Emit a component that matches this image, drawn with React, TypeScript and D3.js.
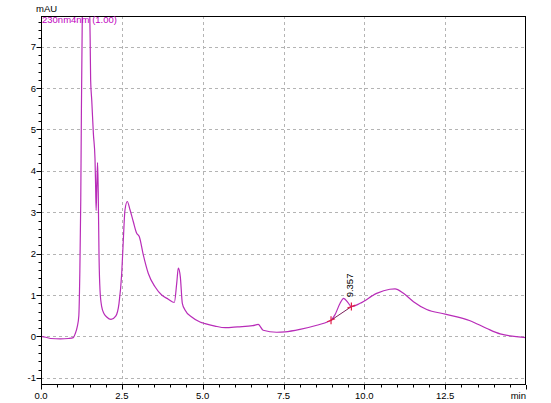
import React from "react";
import * as d3 from "d3";

const times = [0.0, 0.15, 0.3, 0.6, 0.85, 1.0, 1.05, 1.12, 1.17, 1.2, 1.23, 1.25, 1.277, 1.31, 1.38, 1.45, 1.5, 1.52, 1.535, 1.57, 1.62, 1.67, 1.69, 1.705, 1.725, 1.75, 1.77, 1.795, 1.825, 1.877, 1.95, 2.032, 2.165, 2.311, 2.413, 2.496, 2.546, 2.598, 2.669, 2.753, 2.855, 2.96, 3.041, 3.164, 3.319, 3.526, 3.733, 3.937, 4.123, 4.197, 4.247, 4.309, 4.371, 4.454, 4.661, 4.918, 5.073, 5.38, 5.7, 6.08, 6.55, 6.72, 6.87, 7.29, 7.55, 8.01, 8.53, 8.89, 8.97, 9.09, 9.25, 9.36, 9.5, 9.6, 9.87, 10.38, 10.79, 10.95, 11.21, 11.52, 11.93, 12.5, 13.27, 13.79, 14.2, 15.0];
const signal = [0.0, -0.02, -0.05, -0.06, -0.05, -0.03, 0.05, 0.23, 0.5, 1.5, 3.3, 5.5, 7.74, 9.0, 9.5, 9.0, 8.2, 7.2, 6.2, 5.7, 4.9, 4.3, 3.6, 3.04, 3.6, 4.2, 3.5, 1.93, 1.12, 0.72, 0.55, 0.47, 0.41, 0.49, 0.8, 1.52, 2.33, 3.06, 3.26, 3.06, 2.77, 2.49, 2.41, 1.97, 1.52, 1.2, 1.0, 0.9, 0.82, 1.28, 1.65, 1.44, 0.8, 0.64, 0.47, 0.35, 0.31, 0.25, 0.21, 0.23, 0.26, 0.29, 0.15, 0.1, 0.11, 0.17, 0.27, 0.36, 0.39, 0.52, 0.8, 0.92, 0.81, 0.72, 0.8, 1.04, 1.14, 1.15, 1.04, 0.84, 0.65, 0.54, 0.38, 0.19, 0.06, -0.03];

const yTickValues = [-1, 0, 1, 2, 3, 4, 5, 6, 7];
const xTickValues = [0, 2.5, 5, 7.5, 10, 12.5, 15];
const xTickLabels = ["0.0", "2.5", "5.0", "7.5", "10.0", "12.5", ""];

const peakLabel = "9.357";
const peakTime = 9.357;
const peakValue = 0.92;
const baselineStart = [8.97, 0.39];
const baselineEnd = [9.6, 0.72];

const channelLabel = "230nm4nm (1.00)";
const yUnit = "mAU";
const xUnit = "min";

export default function App() {
  const W = 551, H = 403;
  const left = 41, right = 526, top = 16, bottom = 385;
  const x = d3.scaleLinear().domain([0, 15]).range([left, right]);
  const y = d3.scaleLinear().domain([-1.174, 7.742]).range([bottom, top]);

  const data = times.map((t, i) => [t, signal[i]] as [number, number]);
  const line = d3.line<[number, number]>().x(d => x(d[0])).y(d => y(d[1])).curve(d3.curveMonotoneX);

  const yMinor = d3.range(-1.0, 7.7, 0.2).map(v => Math.round(v * 10) / 10);
  const xMinor = d3.range(0, 15.01, 0.5);

  const font = "'Liberation Sans', Arial, sans-serif";
  const fs = 9.5;

  const marker = (t: number, v: number, key: string) => {
    const cx = x(t), cy = y(v);
    return (
      <g key={key} stroke="#e0204a" strokeWidth={1.2}>
        <line x1={cx} y1={cy - 4} x2={cx} y2={cy + 4} />
        <line x1={cx - 4} y1={cy + 1.5} x2={cx + 4} y2={cy - 1.5} />
      </g>
    );
  };

  return (
    <svg width={W} height={H} style={{ position: "absolute", left: 0, top: 0, background: "#fff" }}>
      <defs>
        <clipPath id="plot">
          <rect x={left} y={top} width={right - left} height={bottom - top} />
        </clipPath>
      </defs>
      <rect x={0} y={0} width={W} height={H} fill="#fff" />
      <g stroke="#b4b4b4" strokeWidth={1} strokeDasharray="3,3">
        {yTickValues.map(v => (
          <line key={"gy" + v} x1={left} x2={right} y1={Math.round(y(v)) + 0.5} y2={Math.round(y(v)) + 0.5} />
        ))}
        {xTickValues.slice(1, -1).map(v => (
          <line key={"gx" + v} y1={top} y2={bottom} x1={Math.round(x(v)) + 0.5} x2={Math.round(x(v)) + 0.5} />
        ))}
      </g>
      <g clipPath="url(#plot)">
        <path d={line(data) || ""} fill="none" stroke="#b82cb8" strokeWidth={1.2} strokeLinejoin="round" />
        <line x1={x(baselineStart[0])} y1={y(baselineStart[1])} x2={x(baselineEnd[0])} y2={y(baselineEnd[1])} stroke="#7a1f5a" strokeWidth={1} />
        {marker(baselineStart[0], baselineStart[1], "m1")}
        {marker(baselineEnd[0], baselineEnd[1], "m2")}
      </g>
      <text transform={`translate(${x(peakTime) + 9},${y(peakValue) - 1}) rotate(-90)`} fontFamily={font} fontSize={fs} fill="#000">{peakLabel}</text>
      <rect x={left + 0.5} y={top + 0.5} width={right - left - 1} height={bottom - top - 1} fill="none" stroke="#000" strokeWidth={1} />
      <g stroke="#000" strokeWidth={1}>
        {yMinor.map(v => (
          <line key={"ym" + v} x1={left - 2.5} x2={left} y1={Math.round(y(v)) + 0.5} y2={Math.round(y(v)) + 0.5} />
        ))}
        {yTickValues.map(v => (
          <line key={"yM" + v} x1={left - 4.5} x2={left} y1={Math.round(y(v)) + 0.5} y2={Math.round(y(v)) + 0.5} />
        ))}
        {xMinor.map(v => (
          <line key={"xm" + v} y1={bottom} y2={bottom + 2.5} x1={Math.round(x(v)) + 0.5} x2={Math.round(x(v)) + 0.5} />
        ))}
        {xTickValues.map(v => (
          <line key={"xM" + v} y1={bottom} y2={bottom + 4.5} x1={Math.round(x(v)) + 0.5} x2={Math.round(x(v)) + 0.5} />
        ))}
      </g>
      <g fontFamily={font} fontSize={fs} fill="#000">
        {yTickValues.map(v => (
          <text key={"yl" + v} x={left - 5} y={y(v) + 3.5} textAnchor="end">{String(v)}</text>
        ))}
        {xTickValues.map((v, i) => (
          <text key={"xl" + v} x={x(v)} y={398.5} textAnchor="middle">{xTickLabels[i]}</text>
        ))}
        <text x={right} y={398.5} textAnchor="end">{xUnit}</text>
        <text x={36} y={12}>{yUnit}</text>
      </g>
      <text x={left + 1} y={22.5} fontFamily={font} fontSize={fs} fill="#c000c0">{channelLabel}</text>
    </svg>
  );
}
